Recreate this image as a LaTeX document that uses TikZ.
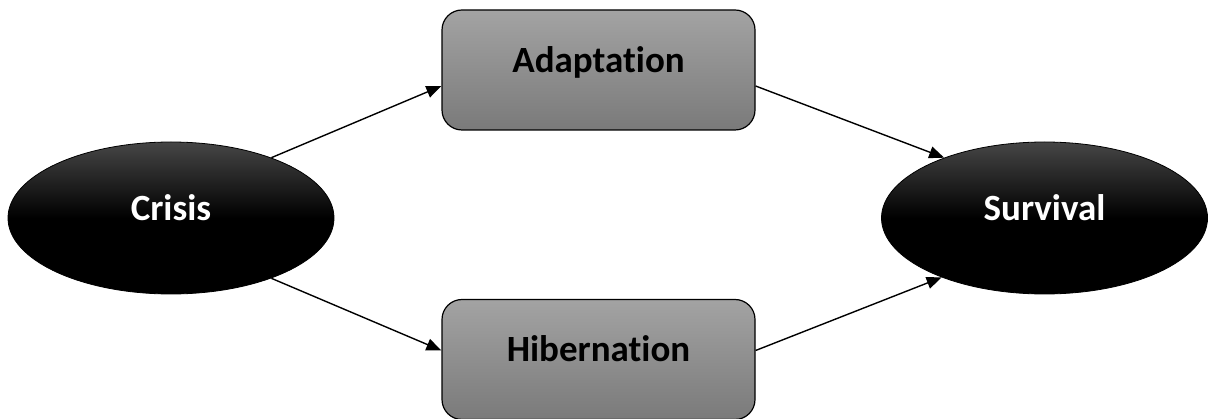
\documentclass[tikz,border=0pt]{standalone}
\usepackage{fontspec}
\setmainfont{Carlito}[Ligatures=NoCommon]
\usetikzlibrary{arrows.meta,shapes.geometric}
\begin{document}
\begin{tikzpicture}[x=1pt,y=-1pt,
  oval/.style={ellipse, draw=black, line width=0.8pt, minimum width=326pt, minimum height=152pt,
    inner sep=0pt, top color={rgb,255:red,70;green,70;blue,70}, bottom color=black, middle color=black,
    text=white, font=\bfseries\fontsize{37}{44}\selectfont, text height=5pt, text depth=0pt},
  stage/.style={rectangle, rounded corners=20pt, draw=black, line width=1.2pt,
    minimum width=313pt, minimum height=120pt, inner sep=0pt,
    top color={rgb,255:red,163;green,163;blue,163}, bottom color={rgb,255:red,122;green,122;blue,122},
    text=black, font=\bfseries\fontsize{37}{44}\selectfont, text height=5pt, text depth=0pt},
  link/.style={line width=1.4pt, -{Triangle[length=15pt,width=12pt]}}
]
\useasboundingbox (0,0) rectangle (1208,419);
\node[oval] (crisis) at (171,218) {Crisis};
\node[oval] (survival) at (1044.5,218) {Survival};
\node[stage] (adapt) at (598.5,70) {Adaptation};
\node[stage] (hib) at (598.5,359.5) {Hibernation};
\draw[link] (crisis.31) -- ([yshift=-16pt]adapt.west);
\draw[link] (crisis.-31) -- ([yshift=9pt]hib.west);
\draw[link] ([yshift=-16pt]adapt.east) -- (survival.149.5);
\draw[link] ([yshift=9pt]hib.east) -- (survival.210.5);
\end{tikzpicture}
\end{document}
